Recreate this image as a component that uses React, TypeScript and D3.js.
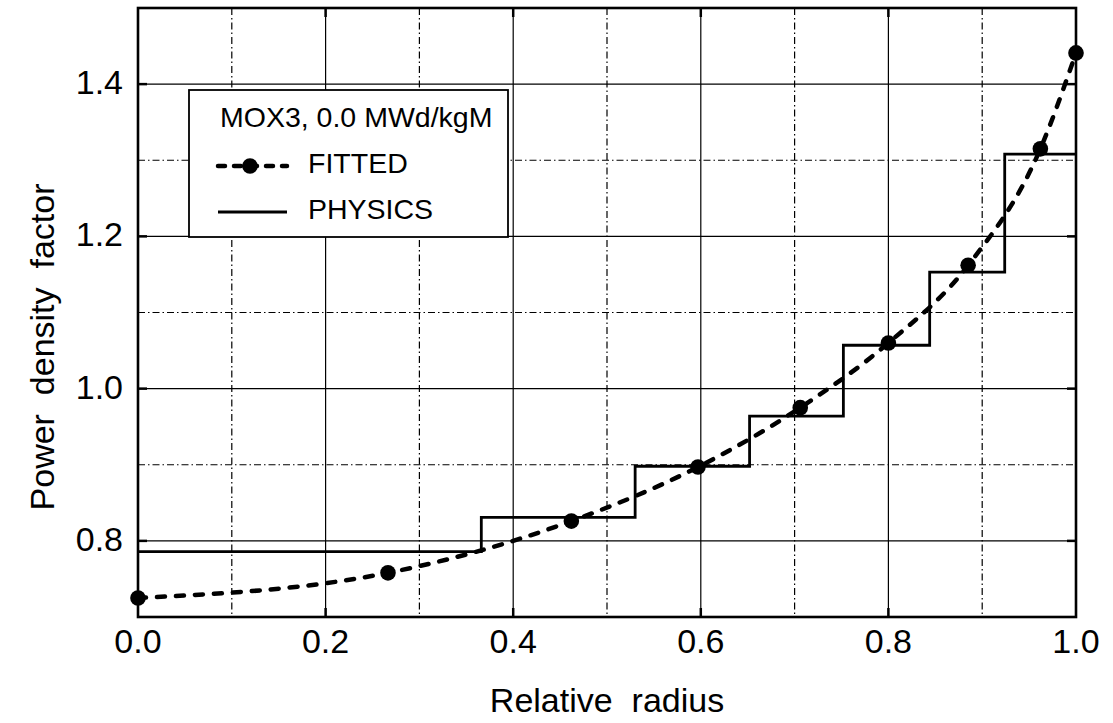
import React from "react";
import * as d3 from "d3";

// PHYSICS step profile: ring edges (relative radius) and power density in each ring
const physicsEdges = [0, 0.366, 0.53, 0.652, 0.752, 0.844, 0.924, 1.0];
const physicsValues = [0.786, 0.831, 0.898, 0.964, 1.057, 1.153, 1.308];

// FITTED curve markers
const fittedX = [0, 0.2665, 0.462, 0.597, 0.706, 0.8, 0.885, 0.962, 1.0];
const fittedY = [0.725, 0.758, 0.826, 0.897, 0.975, 1.06, 1.162, 1.315, 1.441];

const xMajor = [0.2, 0.4, 0.6, 0.8];
const xMinor = [0.1, 0.3, 0.5, 0.7, 0.9];
const yMajor = [0.8, 1.0, 1.2, 1.4];
const yMinor = [0.9, 1.1, 1.3];
const xTickLabels = [0, 0.2, 0.4, 0.6, 0.8, 1.0];
const yTickLabels = [0.8, 1.0, 1.2, 1.4];

const legendTitle = "MOX3, 0.0 MWd/kgM";
const legendFitted = "FITTED";
const legendPhysics = "PHYSICS";

const W = 1113;
const H = 723;
const FONT = "'Liberation Sans', Arial, Helvetica, sans-serif";

export default function App() {
  const x = d3.scaleLinear().domain([0, 1]).range([138, 1076]);
  const y = d3.scaleLinear().domain([0.7, 1.5]).range([617, 8]);

  const stepPts: [number, number][] = physicsValues.map((v, i) => [physicsEdges[i], v]);
  stepPts.push([physicsEdges[physicsEdges.length - 1], physicsValues[physicsValues.length - 1]]);
  const stepLine = d3
    .line<[number, number]>()
    .x((d) => x(d[0]))
    .y((d) => y(d[1]))
    .curve(d3.curveStepAfter);

  const fitPts: [number, number][] = fittedX.map((v, i) => [v, fittedY[i]]);
  const fitLine = d3
    .line<[number, number]>()
    .x((d) => x(d[0]))
    .y((d) => y(d[1]))
    .curve(d3.curveMonotoneX);

  const [x0, x1] = x.range();
  const [y0, y1] = y.range();
  const dashDot = "7 3 1.5 3";
  const fitDash = "8 11";

  return (
    <svg
      width={W}
      height={H}
      viewBox={`0 0 ${W} ${H}`}
      style={{ position: "absolute", left: 0, top: 0, background: "#fff" }}
      fontFamily={FONT}
    >
      <rect x={0} y={0} width={W} height={H} fill="#fff" />
      {/* grid */}
      {xMajor.map((v) => (
        <line key={"xm" + v} x1={x(v)} x2={x(v)} y1={y1} y2={y0} stroke="#000" strokeWidth={1.2} />
      ))}
      {xMinor.map((v) => (
        <line key={"xn" + v} x1={x(v)} x2={x(v)} y1={y1} y2={y0} stroke="#000" strokeWidth={1.2} strokeDasharray={dashDot} />
      ))}
      {yMajor.map((v) => (
        <line key={"ym" + v} x1={x0} x2={x1} y1={y(v)} y2={y(v)} stroke="#000" strokeWidth={1.2} />
      ))}
      {yMinor.map((v) => (
        <line key={"yn" + v} x1={x0} x2={x1} y1={y(v)} y2={y(v)} stroke="#000" strokeWidth={1.2} strokeDasharray={dashDot} />
      ))}
      {/* inward ticks */}
      {xMajor.map((v) => (
        <g key={"xt" + v}>
          <line x1={x(v)} x2={x(v)} y1={y0} y2={y0 - 9} stroke="#000" strokeWidth={2.5} />
          <line x1={x(v)} x2={x(v)} y1={y1} y2={y1 + 9} stroke="#000" strokeWidth={2.5} />
        </g>
      ))}
      {yMajor.map((v) => (
        <g key={"yt" + v}>
          <line x1={x0} x2={x0 + 9} y1={y(v)} y2={y(v)} stroke="#000" strokeWidth={2.5} />
          <line x1={x1} x2={x1 - 9} y1={y(v)} y2={y(v)} stroke="#000" strokeWidth={2.5} />
        </g>
      ))}

      {/* physics step line */}
      <path d={stepLine(stepPts) || ""} fill="none" stroke="#000" strokeWidth={2.8} />

      {/* fitted dashed curve */}
      <path
        d={fitLine(fitPts) || ""}
        fill="none"
        stroke="#000"
        strokeWidth={4.5}
        strokeDasharray={fitDash}
        strokeLinecap="round"
      />
      {fitPts.map((d, i) => (
        <circle key={"p" + i} cx={x(d[0])} cy={y(d[1])} r={7.8} fill="#000" />
      ))}

      {/* frame */}
      <rect x={x0} y={y1} width={x1 - x0} height={y0 - y1} fill="none" stroke="#000" strokeWidth={2.6} />

      {/* legend */}
      <rect x={189} y={90} width={319} height={147} fill="#fff" stroke="#000" strokeWidth={1.8} />
      <text x={220} y={127} fontSize={28.5}>{legendTitle}</text>
      <line x1={218} x2={287} y1={166} y2={166} stroke="#000" strokeWidth={4.5} strokeDasharray="7 9" strokeLinecap="round" />
      <circle cx={250} cy={166} r={7.8} fill="#000" />
      <text x={308} y={173} fontSize={28.5}>{legendFitted}</text>
      <line x1={218} x2={287} y1={212} y2={212} stroke="#000" strokeWidth={2.8} />
      <text x={308} y={219} fontSize={28.5}>{legendPhysics}</text>

      {/* tick labels */}
      {xTickLabels.map((v) => (
        <text key={"xl" + v} x={x(v)} y={653} fontSize={34} textAnchor="middle">
          {v.toFixed(1)}
        </text>
      ))}
      {yTickLabels.map((v) => (
        <text key={"yl" + v} x={123} y={y(v) + 10} fontSize={34} textAnchor="end">
          {v.toFixed(1)}
        </text>
      ))}

      {/* axis titles */}
      <text x={607} y={712} fontSize={34} textAnchor="middle" style={{ whiteSpace: "pre" }}>
        {"Relative  radius"}
      </text>
      <text
        transform={`translate(54, 347) rotate(-90)`}
        fontSize={34}
        textAnchor="middle"
        style={{ whiteSpace: "pre" }}
      >
        {"Power  density  factor"}
      </text>
    </svg>
  );
}
